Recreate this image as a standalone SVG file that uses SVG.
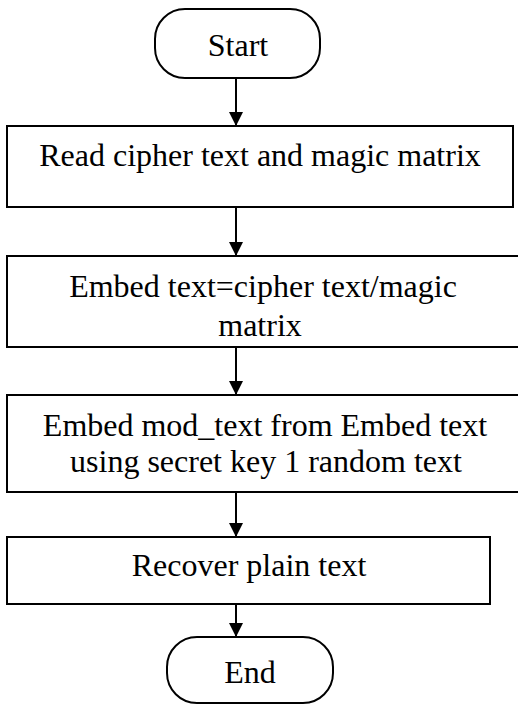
<svg xmlns="http://www.w3.org/2000/svg" width="518" height="704" viewBox="0 0 518 704">
  <style>
    .shape { fill: #ffffff; stroke: #000000; stroke-width: 2; }
    .label { font-family: "Liberation Serif", "Times New Roman", serif; font-size: 32px; fill: #000000; text-anchor: middle; }
    .link { stroke: #000000; stroke-width: 2; fill: none; marker-end: url(#arrow); }
  </style>
  <defs>
    <marker id="arrow" markerWidth="14" markerHeight="14" refX="14" refY="7" orient="auto" markerUnits="userSpaceOnUse">
      <path d="M0,0 L14,7 L0,14 Z" fill="#000000"/>
    </marker>
  </defs>
  <rect width="518" height="704" fill="#ffffff"/>

  <g id="connectors">
    <line class="link" x1="236" y1="78" x2="236" y2="126"/>
    <line class="link" x1="236" y1="207" x2="236" y2="256"/>
    <line class="link" x1="236" y1="347" x2="236" y2="395"/>
    <line class="link" x1="236" y1="492" x2="236" y2="537"/>
    <line class="link" x1="236" y1="604" x2="236" y2="637"/>
  </g>

  <g id="start">
    <rect class="shape" x="155" y="9" width="165" height="69" rx="30" ry="30"/>
    <text class="label" x="238" y="56">Start</text>
  </g>

  <g id="read">
    <rect class="shape" x="7" y="126" width="506" height="81"/>
    <text class="label" x="260" y="166">Read cipher text and magic matrix</text>
  </g>

  <g id="embed-text">
    <rect class="shape" x="7" y="256" width="514" height="91"/>
    <text class="label" x="263" y="297">Embed text=cipher text/magic</text>
    <text class="label" x="260" y="336">matrix</text>
  </g>

  <g id="embed-mod">
    <rect class="shape" x="7" y="395" width="516" height="97"/>
    <text class="label" x="265" y="436">Embed mod_text from Embed text</text>
    <text class="label" x="266" y="472">using secret key 1 random text</text>
  </g>

  <g id="recover">
    <rect class="shape" x="7" y="537" width="483" height="67"/>
    <text class="label" x="249" y="576">Recover plain text</text>
  </g>

  <g id="end">
    <rect class="shape" x="167" y="637" width="166" height="66" rx="30" ry="30"/>
    <text class="label" x="250" y="683">End</text>
  </g>
</svg>
